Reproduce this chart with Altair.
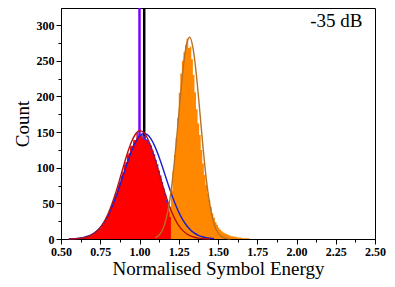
import altair as alt
import pandas as pd

# ---------------- data ----------------
bin_width = 0.01

red_start = 0.58
red_counts = [0, 0,
              1, 0, 1, 1, 2, 2, 3, 3, 4, 5,
              6, 8, 9, 12, 14, 16, 20, 23, 27, 31,
              37, 41, 48, 53, 61, 65, 75, 80, 89, 94,
              104, 108, 118, 121, 130, 131, 139, 138, 149, 142,
              146, 141, 145, 139, 138, 134, 130, 125, 119, 112,
              106, 99, 92, 84, 76, 67, 60, 51, 40, 31]

blue_start = 0.60
blue_counts = [0, 1, 0, 1, 1, 2, 2, 3, 3, 4,
               5, 6, 8, 10, 12, 14, 17, 20, 24, 28,
               33, 38, 44, 50, 56, 62, 70, 77, 85, 92,
               100, 106, 114, 119, 127, 130, 136, 139, 142, 145,
               141, 147, 142, 145, 140, 139, 134, 131, 124, 119,
               111, 105, 96, 89, 80, 71, 63, 55, 46, 38,
               30, 22]

orange_start = 1.14
orange_counts = [3, 6, 10, 17, 28, 45, 68, 95, 118, 142,
                 170, 205, 232, 250, 262, 272, 281, 268, 270, 252,
                 230, 206, 182, 162, 146, 125, 106, 90, 76, 64,
                 55, 45, 36, 30, 24, 20, 16, 13, 11, 9,
                 8, 7, 6, 5, 4, 4, 3, 3, 2, 2,
                 2, 1, 1, 1, 1, 1]

red_fit_start, red_fit_step = 0.55, 0.025
red_fit = [0.1, 0.2, 0.5, 1.0, 1.9, 3.5, 6.0, 10.0, 15.9, 24.2, 35.3, 49.4,
           66.0, 84.5, 103.6, 121.7, 136.8, 147.3, 151.9, 149.9, 141.7, 128.2,
           111.1, 92.2, 73.3, 55.7, 40.6, 28.3, 18.9, 12.1, 7.4, 4.3, 2.4, 1.3,
           0.7, 0.3, 0.1]

blue_fit_start, blue_fit_step = 0.55, 0.025
blue_fit = [0.2, 0.4, 0.8, 1.4, 2.5, 4.2, 6.8, 10.7, 16.1, 23.5, 33.2, 45.1,
            59.2, 75.0, 91.8, 108.4, 123.5, 135.9, 144.3, 147.9, 146.3, 139.8,
            128.9, 114.7, 98.5, 81.7, 65.4, 50.5, 37.7, 27.1, 18.9, 12.7, 8.2,
            5.1, 3.1, 1.8, 1.0, 0.5]

brown_fit_start, brown_fit_step = 1.10, 0.02
brown_fit = [1.9, 4.6, 10.1, 20.5, 38.3, 65.5, 103.2, 149.4, 198.8, 243.2,
             273.5, 283.0, 268.9, 235.1, 189.0, 139.7, 94.8, 59.3, 34.0, 18.0,
             8.7, 3.9, 1.6, 0.6, 0.2]

marker_lines = [1.00, 1.03]
marker_colors = ["#7f00ff", "#000000"]

x_ticks = [0.5 + 0.125 * i for i in range(17)]
y_ticks = [25 * i for i in range(13)]
annotation = "-35 dB"

SERIF = "Liberation Serif, Times New Roman, serif"


# ---------------- frames ----------------
def step_frame(start, counts):
    xs = [round(start + i * bin_width, 4) for i in range(len(counts) + 1)]
    ys = list(counts) + [counts[-1]]
    return pd.DataFrame({"x": xs, "y": ys})


def curve_frame(start, step, values):
    xs = [round(start + i * step, 4) for i in range(len(values))]
    return pd.DataFrame({"x": xs, "y": values})


X = alt.X("x:Q",
          scale=alt.Scale(domain=[0.5, 2.5], nice=False, zero=False),
          axis=alt.Axis(values=x_ticks,
                        labelExpr="datum.value % 0.25 == 0 ? format(datum.value, '.2f') : ''",
                        tickSize={"condition": {"test": "datum.value % 0.25 != 0", "value": 3}, "value": 5},
                        labelFlush=False, labelOverlap=False, labelPadding=2,
                        title="Normalised Symbol Energy", titlePadding=2))
Y = alt.Y("y:Q",
          scale=alt.Scale(domain=[0, 324], nice=False),
          axis=alt.Axis(values=y_ticks,
                        labelExpr="datum.value % 50 == 0 ? datum.value : ''",
                        tickSize={"condition": {"test": "datum.value % 50 != 0", "value": 3}, "value": 5},
                        labelFlush=False, labelOverlap=False, labelPadding=2,
                        title="Count", titlePadding=4))

rules = alt.Chart(pd.DataFrame({"x": marker_lines, "c": marker_colors})).mark_rule(
    strokeWidth=2.5).encode(x=X, color=alt.Color("c:N", scale=None))

blue_hist = alt.Chart(step_frame(blue_start, blue_counts)).mark_area(
    interpolate="step-after", color="#2a2aff").encode(x=X, y=Y)
orange_hist = alt.Chart(step_frame(orange_start, orange_counts)).mark_area(
    interpolate="step-after", color="#ff8800").encode(x=X, y=Y)
red_hist = alt.Chart(step_frame(red_start, red_counts)).mark_area(
    interpolate="step-after", color="#ff0000").encode(x=X, y=Y)

blue_line = alt.Chart(curve_frame(blue_fit_start, blue_fit_step, blue_fit)).mark_line(
    interpolate="monotone", color="#1c1cd0", strokeWidth=1.4).encode(x=X, y=Y)
red_line = alt.Chart(curve_frame(red_fit_start, red_fit_step, red_fit)).mark_line(
    interpolate="monotone", color="#b81010", strokeWidth=1.4).encode(x=X, y=Y)
brown_line = alt.Chart(curve_frame(brown_fit_start, brown_fit_step, brown_fit)).mark_line(
    interpolate="monotone", color="#b87024", strokeWidth=1.4).encode(x=X, y=Y)

label = alt.Chart(pd.DataFrame({"x": [2.42], "y": [298], "t": [annotation]})).mark_text(
    align="right", baseline="alphabetic", font=SERIF, fontSize=19,
    color="black").encode(x=X, y=Y, text="t:N")

chart = alt.layer(rules, blue_hist, orange_hist, red_hist,
                  blue_line, red_line, brown_line, label).properties(
    width=314, height=231,
    autosize=alt.AutoSizeParams(type="none"),
    padding={"left": 53, "top": 0, "right": 12, "bottom": 46},
).configure_axis(
    grid=False,
    labelFont=SERIF, labelFontWeight="bold", labelFontSize=12,
    labelColor="black",
    titleFont=SERIF, titleFontWeight="normal", titleFontSize=19,
    titleColor="black",
    domainColor="black", tickColor="black", domainWidth=1, tickWidth=1,
).configure_view(stroke="black", strokeWidth=1)

chart.save("out.html", embed_options={"renderer": "svg", "actions": False})
